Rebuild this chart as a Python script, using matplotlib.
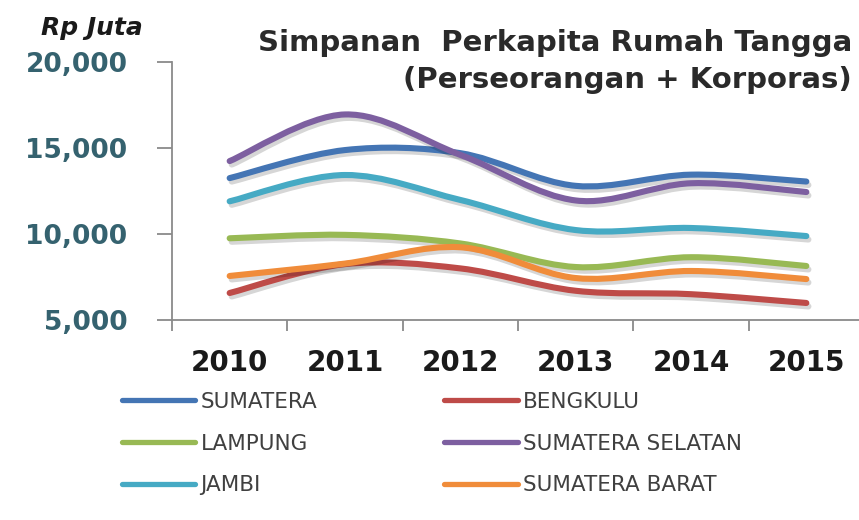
import matplotlib
matplotlib.use("Agg")
import matplotlib.pyplot as plt
from matplotlib.path import Path
from matplotlib.patches import PathPatch
from matplotlib.lines import Line2D
import matplotlib.patheffects as pe

years = ["2010", "2011", "2012", "2013", "2014", "2015"]
y_ticks = [5000, 10000, 15000, 20000]
y_tick_labels = ["5,000", "10,000", "15,000", "20,000"]

sumatera = [13250, 14880, 14700, 12800, 13450, 13050]
bengkulu = [6570, 8250, 8000, 6700, 6500, 5990]
lampung = [9750, 9950, 9450, 8080, 8650, 8140]
sumatera_selatan = [14240, 16950, 14600, 11950, 12950, 12440]
jambi = [11900, 13430, 11980, 10230, 10350, 9880]
sumatera_barat = [7560, 8280, 9230, 7440, 7850, 7380]

series_names = ["SUMATERA", "BENGKULU", "LAMPUNG", "SUMATERA SELATAN", "JAMBI", "SUMATERA BARAT"]
series_values = [sumatera, bengkulu, lampung, sumatera_selatan, jambi, sumatera_barat]
series_colors = ["#4475B4", "#BE4B48", "#98B954", "#7D5FA0", "#46AAC4", "#F08C3A"]


def smooth_path(xs, ys, t=1.0):
    n = len(xs)
    verts = [(xs[0], ys[0])]
    codes = [Path.MOVETO]
    for i in range(n - 1):
        a = i - 1 if i > 0 else i
        d = i + 2 if i + 2 < n else i + 1
        c1 = (xs[i] + (xs[i + 1] - xs[a]) / 6 * t, ys[i] + (ys[i + 1] - ys[a]) / 6 * t)
        c2 = (xs[i + 1] - (xs[d] - xs[i]) / 6 * t, ys[i + 1] - (ys[d] - ys[i]) / 6 * t)
        verts += [c1, c2, (xs[i + 1], ys[i + 1])]
        codes += [Path.CURVE4] * 3
    return Path(verts, codes)


fig = plt.figure(figsize=(8.59, 5.2), dpi=100)
ax = fig.add_axes([172 / 859, 1 - 320 / 520, 692 / 859, 258 / 520])

xs = list(range(len(years)))
shadow = [pe.SimpleLineShadow(offset=(1.5, -2.5), shadow_color="#000000", alpha=0.16),
          pe.Normal()]
handles = {}
for name, vals, col in zip(series_names, series_values, series_colors):
    patch = PathPatch(smooth_path(xs, vals), fill=False, edgecolor=col, lw=4.4,
                      capstyle="round", joinstyle="round", path_effects=shadow)
    ax.add_patch(patch)
    handles[name] = Line2D([], [], color=col, lw=3.8, solid_capstyle="round")

ax.set_xlim(-0.5, len(years) - 0.5)
ax.set_ylim(5000, 20000)

for s in ["top", "right"]:
    ax.spines[s].set_visible(False)
for s in ["left", "bottom"]:
    ax.spines[s].set_color("#8a8a8a")
    ax.spines[s].set_linewidth(1.3)

ax.set_yticks(y_ticks)
ax.set_yticklabels(y_tick_labels)
ax.tick_params(axis="y", direction="out", length=11, width=1.3, color="#8a8a8a",
               pad=21, labelsize=19, labelcolor="#35626F")
for lbl in ax.get_yticklabels():
    lbl.set_fontweight("bold")

ax.set_xticks(xs)
ax.set_xticklabels(years)
ax.set_xticks([x - 0.5 for x in xs] + [len(years) - 0.5], minor=True)
ax.tick_params(axis="x", which="major", length=0, pad=21, labelsize=20, labelcolor="#1a1a1a")
ax.tick_params(axis="x", which="minor", direction="out", length=8, width=1.3, color="#8a8a8a")
for lbl in ax.get_xticklabels():
    lbl.set_fontweight("bold")

fig.text(92 / 859, 1 - 28 / 520, "Rp Juta", ha="center", va="center", fontsize=18,
         fontweight="bold", fontstyle="italic", color="#1a1a1a")
fig.text(852 / 859, 1 - 43 / 520, "Simpanan  Perkapita Rumah Tangga", ha="right", va="center",
         fontsize=21, fontweight="bold", color="#2a2a2a")
fig.text(852 / 859, 1 - 80 / 520, "(Perseorangan + Korporas)", ha="right", va="center",
         fontsize=21, fontweight="bold", color="#2a2a2a")

order = ["SUMATERA", "LAMPUNG", "JAMBI", "BENGKULU", "SUMATERA SELATAN", "SUMATERA BARAT"]
fig.legend([handles[n] for n in order], order, loc="upper left",
           bbox_to_anchor=(122 / 859, 1 - 392 / 520), ncol=2, frameon=False,
           fontsize=15.5, handlelength=3.4, handletextpad=0.25, columnspacing=5.9,
           labelspacing=1.0, borderpad=0, borderaxespad=0, labelcolor="#404040")

fig.savefig("out.png", dpi=100)
